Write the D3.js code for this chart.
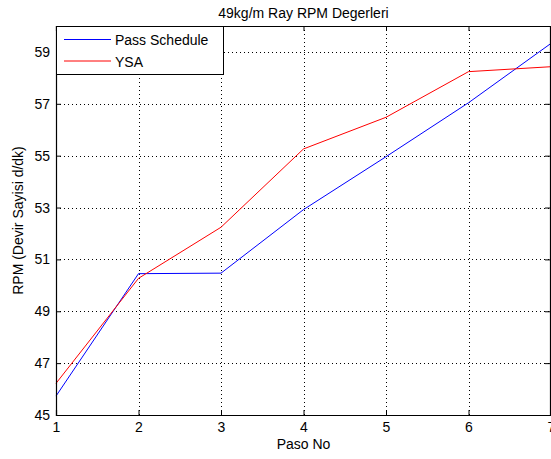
<!DOCTYPE html>
<html>
<head>
<meta charset="utf-8">
<script src="https://cdn.jsdelivr.net/npm/d3@7"></script>
<style>
  body { margin: 0; background: #fff; }
  text { font-family: "Liberation Sans", Arial, sans-serif; font-size: 14px; fill: #000; }
</style>
</head>
<body>
<div id="chart"></div>
<script>
var paso = [1, 2, 3, 4, 5, 6, 7];
var passSchedule = [45.73, 50.45, 50.47, 52.92, 54.96, 57.04, 59.33];
var ysa = [46.22, 50.27, 52.24, 55.26, 56.48, 58.24, 58.43];
var yTicks = [45, 47, 49, 51, 53, 55, 57, 59];
var series = [
  {name: "Pass Schedule", values: passSchedule, color: "#0000ff"},
  {name: "YSA", values: ysa, color: "#ff0000"}
];

var W = 551, H = 459;
var margin = {top: 26, right: 0, bottom: 44, left: 56};
var width = W - margin.left - margin.right;
var height = H - margin.top - margin.bottom;
var fontFam = "'Liberation Sans', Arial, sans-serif";

var svg = d3.select("#chart")
    .append("svg")
    .attr("width", W)
    .attr("height", H)
    .append("g")
    .attr("transform", "translate(" + margin.left + "," + margin.top + ")");

var x = d3.scaleLinear().domain([1, 7]).range([0, width]);
var y = d3.scaleLinear().domain([45, 60]).range([height, 0]);

// grid
svg.append("g").selectAll("line")
   .data(paso.slice(1, -1))
   .enter().append("line")
   .attr("x1", function(d) { return Math.round(x(d)) + 0.5; })
   .attr("x2", function(d) { return Math.round(x(d)) + 0.5; })
   .attr("y1", 0).attr("y2", height)
   .attr("stroke", "#000").attr("stroke-width", 1)
   .attr("stroke-dasharray", "1,3");

svg.append("g").selectAll("line")
   .data(yTicks.slice(1))
   .enter().append("line")
   .attr("y1", function(d) { return Math.round(y(d)) + 0.5; })
   .attr("y2", function(d) { return Math.round(y(d)) + 0.5; })
   .attr("x1", 0).attr("x2", width)
   .attr("stroke", "#000").attr("stroke-width", 1)
   .attr("stroke-dasharray", "1,3");

// lines
var line = d3.line()
    .x(function(d, i) { return x(paso[i]); })
    .y(function(d) { return y(d); });

series.forEach(function(s) {
  svg.append("path")
     .datum(s.values)
     .attr("fill", "none")
     .attr("stroke", s.color)
     .attr("stroke-width", 1)
     .attr("d", line);
});

// axes (ticks inward, mirrored on top/right)
var tl = 5;
svg.append("g")
   .attr("transform", "translate(0," + height + ")")
   .call(d3.axisBottom(x).tickValues(paso).tickFormat(d3.format("d")).tickSize(-tl).tickPadding(7))
   .call(function(g) {
     g.select(".domain").attr("stroke-width", 1.2);
     g.selectAll("text").style("font-size", "14px").style("font-family", fontFam);
   });
svg.append("g")
   .call(d3.axisTop(x).tickValues(paso).tickFormat("").tickSize(-tl))
   .call(function(g) { g.select(".domain").attr("stroke-width", 1.2); });
svg.append("g")
   .call(d3.axisLeft(y).tickValues(yTicks).tickFormat(d3.format("d")).tickSize(-tl).tickPadding(6))
   .call(function(g) {
     g.select(".domain").attr("stroke-width", 1.2);
     g.selectAll("text").style("font-size", "14px").style("font-family", fontFam);
   });
svg.append("g")
   .attr("transform", "translate(" + (width - 1) + ",0)")
   .call(d3.axisRight(y).tickValues(yTicks).tickFormat("").tickSize(-tl))
   .call(function(g) { g.select(".domain").attr("stroke-width", 1.2); });

// legend
var lg = svg.append("g");
lg.append("rect")
  .attr("x", 0.5).attr("y", 0.5)
  .attr("width", 167).attr("height", 48)
  .attr("fill", "#fff").attr("stroke", "#000").attr("stroke-width", 1);
series.forEach(function(s, i) {
  var yy = 13.5 + i * 21.5;
  lg.append("line")
    .attr("x1", 8).attr("x2", 55)
    .attr("y1", yy).attr("y2", yy)
    .attr("stroke", s.color).attr("stroke-width", 1);
  lg.append("text")
    .attr("x", 59).attr("y", yy + 5.5)
    .text(s.name);
});

// title and labels
svg.append("text")
   .attr("x", width / 2).attr("y", -8)
   .attr("text-anchor", "middle")
   .text("49kg/m Ray RPM Degerleri");

svg.append("text")
   .attr("x", width / 2).attr("y", height + 34)
   .attr("text-anchor", "middle")
   .text("Paso No");

svg.append("text")
   .attr("transform", "translate(-33," + (height / 2) + ") rotate(-90)")
   .attr("text-anchor", "middle")
   .text("RPM (Devir Sayisi d/dk)");
</script>
</body>
</html>
